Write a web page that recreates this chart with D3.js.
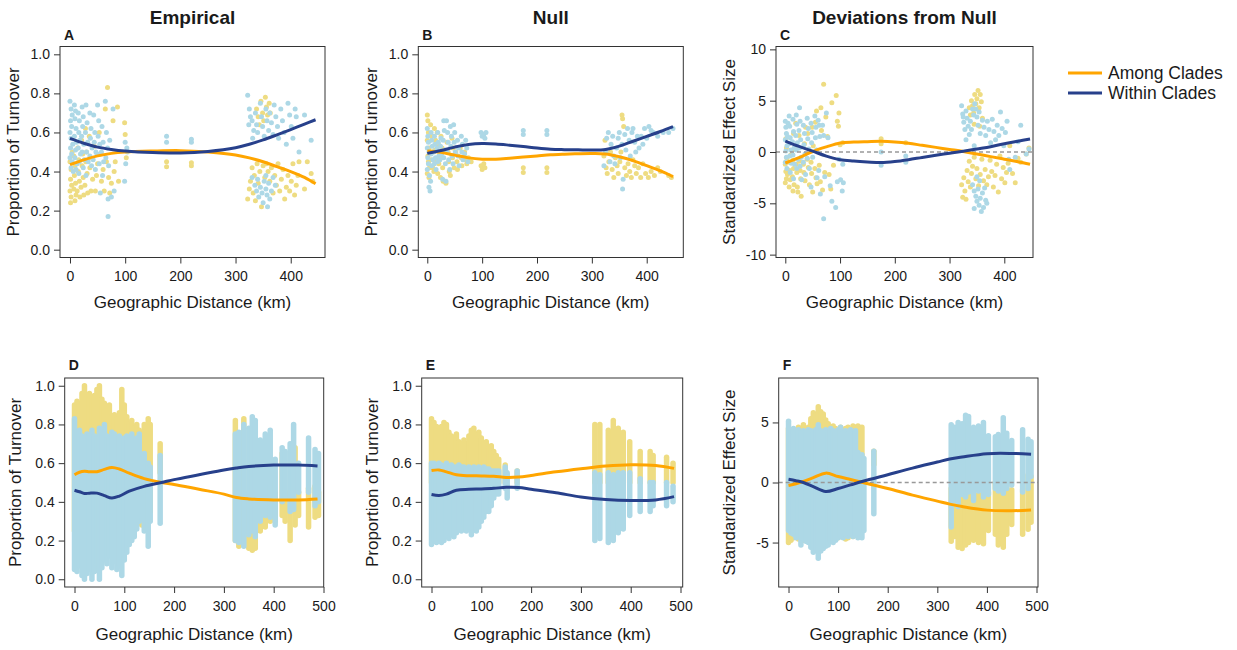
<!DOCTYPE html>
<html><head><meta charset="utf-8">
<script src="https://cdn.jsdelivr.net/npm/d3@7"></script>
<style>body{margin:0;background:#fff}text{font-family:"Liberation Sans",Arial,sans-serif;fill:#1a1a1a}</style>
</head><body>
<script>
// ---------- DATA ----------
const seriesNames = ["Among Clades", "Within Clades"];
const colTitles = ["Empirical", "Null", "Deviations from Null"];
const panelLetters = ["A","B","C","D","E","F"];
const xTicksTop = [0,100,200,300,400];
const xTicksBottom = [0,100,200,300,400,500];
const yTicksProp = [0,0.2,0.4,0.6,0.8,1.0];
const yTicksSesTop = [-10,-5,0,5,10];
const yTicksSesBottom = [-5,0,5];

// Top row scatter points [distance km, value]
const A_among_pts = [[0,0.45],[2,0.41],[1,0.36],[3,0.33],[0,0.3],[2,0.27],[1,0.24],[4,0.5],[7,0.48],[9,0.43],[8,0.38],[10,0.34],[7,0.31],[11,0.28],[9,0.25],[14,0.52],[16,0.46],[15,0.4],[17,0.35],[13,0.3],[18,0.27],[21,0.56],[23,0.49],[22,0.43],[24,0.37],[20,0.32],[25,0.28],[28,0.62],[30,0.5],[29,0.45],[31,0.39],[27,0.33],[32,0.29],[35,0.58],[37,0.47],[36,0.42],[38,0.3],[41,0.36],[44,0.53],[46,0.3],[48,0.38],[50,0.44],[53,0.6],[55,0.49],[57,0.35],[60,0.41],[62,0.3],[64,0.72],[66,0.45],[68,0.83],[70,0.37],[72,0.29],[75,0.34],[78,0.66],[80,0.4],[82,0.45],[86,0.73],[88,0.35],[99,0.65],[100,0.59],[102,0.47],[175,0.45],[175,0.425],[220,0.445],[220,0.43],[338,0.72],[341,0.68],[343,0.64],[346,0.76],[349,0.7],[351,0.66],[354,0.78],[356,0.73],[358,0.69],[361,0.75],[363,0.7],[322,0.26],[325,0.31],[327,0.35],[330,0.42],[332,0.29],[334,0.38],[336,0.25],[339,0.44],[341,0.34],[344,0.4],[347,0.22],[350,0.43],[353,0.37],[356,0.44],[359,0.4],[362,0.35],[365,0.42],[368,0.29],[371,0.38],[374,0.33],[377,0.44],[380,0.3],[383,0.36],[386,0.41],[389,0.26],[392,0.32],[395,0.38],[398,0.3],[401,0.35],[404,0.44],[407,0.28],[410,0.33],[413,0.38],[425,0.31],[430,0.45],[437,0.39],[440,0.35],[415,0.45]];
const A_within_pts = [[0,0.76],[2,0.72],[4,0.69],[1,0.66],[3,0.63],[0,0.6],[2,0.57],[5,0.54],[1,0.52],[3,0.49],[0,0.47],[4,0.45],[2,0.42],[6,0.4],[8,0.74],[10,0.71],[9,0.67],[11,0.62],[8,0.58],[12,0.55],[10,0.51],[9,0.47],[13,0.44],[11,0.41],[15,0.7],[17,0.66],[16,0.6],[18,0.56],[15,0.52],[19,0.49],[17,0.45],[16,0.39],[22,0.73],[24,0.68],[23,0.63],[21,0.58],[25,0.54],[22,0.5],[26,0.46],[24,0.42],[29,0.74],[31,0.65],[28,0.6],[32,0.55],[30,0.5],[33,0.45],[29,0.38],[36,0.7],[38,0.62],[37,0.57],[40,0.52],[36,0.48],[39,0.43],[43,0.69],[45,0.6],[44,0.55],[47,0.5],[42,0.46],[46,0.41],[50,0.74],[52,0.66],[51,0.58],[54,0.54],[49,0.49],[53,0.44],[58,0.63],[60,0.55],[57,0.5],[61,0.45],[59,0.38],[64,0.76],[66,0.6],[68,0.52],[65,0.47],[70,0.43],[69,0.26],[55,0.29],[69,0.17],[75,0.27],[78,0.72],[72,0.56],[80,0.3],[99,0.35],[101,0.44],[103,0.52],[100,0.55],[104,0.5],[175,0.58],[175,0.55],[220,0.565],[220,0.55],[322,0.79],[325,0.72],[327,0.68],[324,0.64],[330,0.66],[333,0.61],[331,0.57],[336,0.7],[338,0.64],[340,0.6],[345,0.75],[347,0.68],[349,0.63],[352,0.58],[355,0.72],[357,0.66],[360,0.61],[362,0.7],[365,0.65],[368,0.59],[370,0.74],[373,0.68],[376,0.63],[378,0.57],[382,0.72],[385,0.66],[388,0.6],[392,0.54],[395,0.75],[398,0.69],[401,0.63],[404,0.57],[408,0.72],[410,0.68],[425,0.69],[437,0.56],[415,0.5],[330,0.37],[335,0.33],[338,0.3],[340,0.36],[342,0.27],[345,0.32],[348,0.29],[350,0.24],[352,0.35],[355,0.31],[357,0.28],[358,0.22],[360,0.34],[362,0.26],[365,0.3],[368,0.37],[372,0.33],[355,0.38]];

const B_among_pts = [[0,0.69],[1,0.66],[2,0.6],[0,0.56],[3,0.52],[1,0.48],[2,0.45],[4,0.42],[0,0.39],[3,0.37],[6,0.64],[8,0.58],[9,0.5],[7,0.46],[10,0.42],[13,0.62],[15,0.56],[14,0.51],[16,0.46],[12,0.4],[18,0.6],[20,0.54],[22,0.5],[21,0.44],[19,0.39],[25,0.58],[27,0.52],[26,0.47],[28,0.42],[24,0.37],[29,0.35],[32,0.35],[34,0.34],[36,0.55],[38,0.5],[39,0.45],[40,0.4],[42,0.38],[45,0.57],[47,0.52],[46,0.47],[49,0.42],[52,0.5],[54,0.45],[55,0.41],[60,0.52],[62,0.47],[63,0.43],[68,0.5],[70,0.46],[72,0.44],[75,0.47],[80,0.45],[98,0.43],[100,0.41],[103,0.44],[105,0.42],[175,0.42],[175,0.395],[218,0.42],[218,0.395],[322,0.48],[324,0.56],[326,0.42],[328,0.39],[331,0.45],[334,0.5],[337,0.41],[340,0.37],[343,0.47],[346,0.43],[348,0.39],[351,0.45],[353,0.5],[355,0.69],[356,0.67],[358,0.63],[360,0.42],[363,0.38],[366,0.44],[369,0.4],[372,0.37],[375,0.46],[378,0.43],[381,0.39],[385,0.42],[389,0.37],[393,0.44],[398,0.39],[403,0.37],[408,0.4],[414,0.38],[420,0.42],[425,0.4],[440,0.38],[445,0.37]];
const B_within_pts = [[0,0.62],[1,0.58],[2,0.55],[0,0.52],[3,0.5],[1,0.47],[2,0.44],[0,0.41],[4,0.38],[3,0.32],[5,0.3],[7,0.6],[8,0.56],[9,0.53],[7,0.49],[10,0.46],[8,0.43],[6,0.35],[13,0.58],[14,0.54],[12,0.5],[15,0.47],[13,0.44],[16,0.41],[19,0.6],[20,0.55],[18,0.52],[21,0.48],[19,0.45],[25,0.57],[24,0.53],[26,0.49],[23,0.46],[30,0.66],[31,0.61],[29,0.56],[32,0.51],[30,0.47],[33,0.44],[28,0.36],[35,0.66],[37,0.6],[38,0.55],[36,0.5],[39,0.46],[34,0.35],[42,0.63],[44,0.58],[43,0.53],[45,0.48],[41,0.41],[48,0.64],[50,0.6],[49,0.55],[51,0.5],[47,0.44],[55,0.56],[57,0.52],[56,0.48],[58,0.43],[62,0.58],[64,0.54],[63,0.5],[65,0.46],[70,0.56],[72,0.52],[68,0.49],[74,0.45],[98,0.6],[100,0.58],[103,0.59],[105,0.57],[107,0.6],[175,0.61],[175,0.59],[218,0.61],[218,0.59],[322,0.43],[325,0.5],[327,0.57],[330,0.6],[333,0.45],[335,0.54],[338,0.58],[340,0.48],[342,0.44],[345,0.52],[348,0.57],[350,0.6],[352,0.47],[355,0.54],[357,0.36],[356,0.31],[360,0.59],[362,0.51],[365,0.62],[368,0.56],[370,0.48],[373,0.6],[375,0.62],[378,0.55],[380,0.5],[383,0.58],[386,0.52],[390,0.58],[393,0.54],[396,0.62],[400,0.57],[404,0.63],[408,0.61],[412,0.6],[420,0.58],[430,0.6],[440,0.6],[448,0.62]];

const C_among_pts = [[0,-1.2],[1,-1.9],[2,-2.6],[0,-3.0],[3,-0.6],[4,-2.2],[2,0.4],[1,1.3],[7,-1.0],[8,-1.8],[9,-2.7],[7,-3.4],[10,-0.3],[14,-0.8],[15,-1.6],[13,-2.4],[16,-3.2],[14,-3.8],[17,0.3],[15,1.8],[20,-1.2],[21,-2.0],[22,-3.4],[23,-3.9],[19,2.8],[26,-0.9],[27,-1.8],[28,-2.6],[29,-4.3],[25,1.6],[33,-1.2],[34,-2.0],[36,-2.8],[35,0.8],[37,2.4],[40,-0.7],[42,-1.5],[44,-3.2],[41,1.8],[47,-1.0],[48,-2.1],[50,-3.9],[49,2.4],[51,0.6],[54,-1.6],[56,-2.5],[58,-3.1],[55,2.9],[57,4.0],[62,-1.3],[64,-2.9],[65,4.3],[66,2.1],[68,-3.7],[70,6.6],[72,-2.0],[74,3.4],[77,1.5],[80,-2.2],[83,-3.6],[85,4.8],[88,-1.3],[93,5.5],[95,3.0],[97,2.5],[98,3.8],[100,0.7],[105,0.9],[175,1.3],[175,0.8],[220,0.9],[336,4.3],[338,3.6],[340,5.0],[342,4.5],[344,3.8],[346,5.6],[348,4.7],[350,5.2],[352,6.0],[354,4.3],[356,5.6],[358,4.9],[360,3.3],[345,2.7],[355,2.5],[322,-3.2],[324,-4.4],[326,-2.5],[328,-3.8],[330,-4.6],[332,-1.8],[334,-2.9],[336,-0.9],[338,-3.4],[340,-2.1],[342,-1.4],[345,-0.5],[348,-2.6],[350,-1.6],[353,-3.3],[356,-2.2],[359,-0.7],[362,-2.8],[365,-1.7],[368,-3.2],[371,-2.4],[374,-0.8],[377,-1.9],[380,-3.4],[383,-2.3],[386,-1.2],[389,-3.9],[392,-0.4],[395,-2.6],[398,-1.5],[401,-3.0],[404,-2.0],[407,-1.1],[410,0.6],[415,-2.1],[420,-3.0],[430,-1.0],[440,-0.2],[445,0.4],[425,-0.6]];
const C_within_pts = [[0,3.0],[1,2.4],[2,1.8],[0,1.2],[3,0.6],[1,0.1],[2,-0.5],[0,-1.0],[4,1.5],[5,2.8],[3,-1.6],[7,3.5],[8,2.5],[9,1.4],[7,0.8],[10,0.2],[8,-0.4],[11,-1.1],[9,-2.0],[14,3.2],[15,2.0],[13,1.0],[16,0.4],[14,-0.3],[17,-1.2],[15,-2.6],[20,3.6],[21,2.7],[19,1.6],[22,0.9],[20,0.2],[23,-0.7],[21,-1.6],[26,4.3],[27,3.0],[25,2.1],[28,1.2],[26,0.4],[29,-0.5],[27,-1.4],[30,-2.7],[33,2.6],[35,1.8],[34,0.7],[36,-0.2],[33,-1.0],[37,-2.2],[40,3.3],[42,2.3],[41,1.3],[43,0.3],[40,-0.6],[44,-1.6],[47,2.8],[49,1.9],[48,0.9],[50,-0.5],[47,-3.4],[54,3.5],[56,2.4],[55,1.4],[57,0.2],[58,-2.5],[60,3.1],[62,2.6],[63,1.5],[61,-1.8],[64,-4.1],[68,2.6],[70,1.6],[72,-2.4],[70,-6.5],[75,3.8],[78,1.4],[82,-3.3],[85,-4.8],[92,-5.4],[95,-2.9],[98,-0.7],[101,-2.7],[104,-3.8],[106,-3.0],[105,-1.2],[175,0.0],[175,-1.3],[220,-0.4],[220,-1.0],[322,4.5],[324,3.7],[326,2.9],[328,2.2],[325,3.4],[330,4.0],[332,3.3],[334,2.5],[336,1.7],[330,1.2],[338,3.0],[340,2.2],[342,4.2],[344,3.6],[346,4.7],[348,4.2],[350,3.4],[352,2.6],[354,3.9],[356,1.8],[345,0.6],[360,3.1],[363,2.4],[366,1.6],[369,3.0],[372,2.2],[375,0.9],[378,3.2],[381,2.0],[384,1.2],[387,2.6],[390,1.6],[393,3.9],[396,2.3],[399,0.6],[402,1.9],[405,3.0],[408,-0.7],[410,-1.7],[420,-0.5],[425,1.0],[430,2.6],[440,-0.2],[445,0.3],[342,-3.2],[345,-3.8],[348,-4.3],[350,-4.8],[352,-3.6],[354,-5.2],[356,-4.5],[358,-5.8],[360,-4.0],[362,-5.4],[364,-3.5],[366,-4.7],[368,-5.0],[355,-2.8],[350,-2.4],[345,-5.5]];

// Bottom row: dense vertical point bands [distance km, min value, max value]
const D_among_bands = [[0,0.25,0.9],[5,0.3,0.92],[10,0.3,0.91],[15,0.28,0.96],[20,0.3,1.0],[25,0.3,0.94],[30,0.3,0.96],[35,0.3,0.93],[40,0.3,0.95],[45,0.3,0.98],[50,0.3,1.0],[55,0.3,0.93],[60,0.3,0.91],[65,0.3,0.88],[70,0.3,0.9],[75,0.3,0.84],[80,0.3,0.85],[85,0.3,0.83],[90,0.3,0.86],[95,0.3,0.98],[100,0.3,0.9],[105,0.28,0.84],[110,0.25,0.8],[115,0.25,0.82],[120,0.27,0.78],[125,0.3,0.8],[130,0.3,0.77],[135,0.28,0.75],[140,0.3,0.8],[148,0.3,0.83],[152,0.35,0.8],[172,0.55,0.7],[323,0.2,0.82],[330,0.17,0.45],[340,0.18,0.83],[350,0.16,0.45],[357,0.15,0.42],[363,0.16,0.5],[373,0.25,0.5],[383,0.27,0.48],[393,0.3,0.5],[403,0.3,0.45],[417,0.33,0.65],[423,0.3,0.45],[433,0.2,0.45],[443,0.28,0.68],[450,0.33,0.45],[470,0.27,0.47],[483,0.32,0.48],[490,0.33,0.45]];
const D_within_bands = [[0,0.05,0.83],[5,0.04,0.76],[10,0.07,0.77],[15,0.02,0.74],[20,0.0,0.73],[25,0.03,0.75],[30,0.05,0.74],[35,0.0,0.77],[40,0.04,0.74],[45,0.08,0.73],[50,0.0,0.78],[55,0.06,0.75],[60,0.1,0.8],[65,0.08,0.74],[70,0.12,0.73],[75,0.06,0.76],[80,0.09,0.75],[85,0.05,0.72],[90,0.07,0.74],[95,0.02,0.72],[100,0.1,0.73],[105,0.14,0.74],[110,0.18,0.72],[115,0.2,0.75],[120,0.22,0.72],[125,0.26,0.73],[130,0.3,0.75],[135,0.32,0.62],[140,0.25,0.65],[148,0.17,0.6],[152,0.3,0.58],[172,0.29,0.64],[323,0.2,0.75],[330,0.19,0.76],[340,0.17,0.8],[350,0.23,0.78],[357,0.25,0.84],[363,0.22,0.82],[373,0.3,0.72],[383,0.33,0.75],[393,0.32,0.77],[403,0.28,0.62],[417,0.4,0.68],[423,0.42,0.66],[433,0.35,0.7],[440,0.36,0.8],[450,0.45,0.6],[470,0.45,0.73],[483,0.38,0.67],[490,0.4,0.65]];

const E_among_bands = [[0,0.5,0.83],[5,0.5,0.81],[10,0.5,0.79],[15,0.5,0.77],[20,0.5,0.79],[25,0.5,0.81],[30,0.5,0.8],[35,0.5,0.76],[40,0.5,0.74],[45,0.5,0.73],[50,0.5,0.75],[55,0.5,0.71],[60,0.5,0.7],[65,0.5,0.72],[70,0.5,0.7],[75,0.5,0.74],[80,0.5,0.77],[85,0.5,0.78],[90,0.5,0.75],[95,0.5,0.76],[100,0.5,0.73],[105,0.5,0.7],[110,0.5,0.71],[115,0.5,0.68],[120,0.5,0.69],[125,0.5,0.66],[130,0.5,0.64],[135,0.5,0.62],[148,0.5,0.59],[172,0.5,0.56],[328,0.5,0.8],[338,0.5,0.8],[355,0.5,0.77],[365,0.5,0.82],[375,0.5,0.78],[385,0.5,0.76],[398,0.5,0.71],[419,0.5,0.66],[439,0.5,0.66],[445,0.5,0.64],[472,0.5,0.63],[485,0.5,0.6]];
const E_within_bands = [[0,0.18,0.6],[5,0.2,0.6],[10,0.19,0.59],[15,0.21,0.6],[20,0.19,0.59],[25,0.2,0.58],[30,0.22,0.6],[35,0.21,0.58],[40,0.23,0.59],[45,0.22,0.58],[50,0.24,0.58],[55,0.26,0.59],[60,0.25,0.58],[65,0.28,0.58],[70,0.25,0.57],[75,0.27,0.58],[80,0.23,0.57],[85,0.26,0.58],[90,0.25,0.57],[95,0.27,0.58],[100,0.3,0.57],[105,0.32,0.58],[110,0.35,0.57],[115,0.35,0.57],[120,0.38,0.56],[125,0.42,0.56],[130,0.44,0.56],[135,0.44,0.56],[148,0.47,0.58],[152,0.42,0.55],[172,0.47,0.56],[328,0.2,0.55],[338,0.21,0.54],[355,0.19,0.55],[365,0.2,0.54],[375,0.24,0.55],[385,0.26,0.55],[398,0.33,0.55],[419,0.35,0.52],[439,0.35,0.5],[445,0.38,0.5],[472,0.38,0.5],[485,0.4,0.48]];

const F_among_bands = [[0,-5.0,4.5],[5,-4.8,4.4],[10,-4.6,4.3],[15,-4.5,4.4],[20,-4.7,4.6],[25,-4.6,4.5],[30,-4.8,4.8],[35,-4.5,4.4],[40,-4.6,4.6],[45,-4.4,5.3],[50,-4.5,5.8],[55,-4.3,5.6],[60,-4.6,6.3],[65,-4.5,5.9],[70,-4.4,5.7],[75,-4.6,5.2],[80,-4.7,4.9],[85,-4.8,4.6],[90,-4.5,4.7],[95,-4.7,4.5],[100,-4.6,4.4],[105,-4.4,4.6],[110,-4.5,4.4],[115,-4.7,4.5],[120,-4.6,4.6],[125,-4.4,4.3],[130,-4.5,4.7],[135,-4.3,4.6],[140,-4.3,4.7],[148,-3.0,4.6],[172,1.5,2.6],[328,-4.9,-0.5],[335,-4.5,0.3],[342,-5.4,-0.5],[350,-5.5,-0.8],[357,-5.2,-0.4],[363,-5.0,-0.6],[373,-4.8,-0.6],[383,-5.0,-1.0],[393,-5.1,-0.4],[403,-4.0,-0.8],[417,-4.3,0.0],[423,-5.2,-0.5],[433,-5.4,1.2],[440,-4.3,1.3],[450,-3.5,-0.6],[472,-4.3,-0.6],[483,-3.9,0.6],[489,-3.3,0.5]];
const F_within_bands = [[0,-4.0,5.1],[5,-4.2,4.4],[10,-4.3,4.5],[15,-4.6,4.3],[20,-4.4,4.4],[25,-5.2,4.2],[30,-4.7,4.3],[35,-4.9,4.2],[40,-5.0,4.4],[45,-5.4,4.3],[50,-5.8,4.2],[55,-5.6,4.4],[60,-6.3,4.8],[65,-5.7,4.3],[70,-5.5,4.2],[75,-5.3,4.4],[80,-5.2,4.2],[85,-4.9,4.5],[90,-5.0,4.3],[95,-4.8,4.2],[100,-4.6,4.4],[105,-4.5,4.6],[110,-4.6,4.2],[115,-4.4,4.3],[120,-4.5,4.1],[125,-4.3,4.4],[130,-4.5,4.2],[135,-4.4,4.3],[140,-4.6,2.5],[148,-4.6,2.3],[152,-4.0,2.0],[172,-2.6,2.6],[328,-3.7,4.8],[335,-1.5,4.6],[342,-2.0,5.0],[350,-1.0,4.9],[357,-1.2,5.6],[363,-0.8,5.5],[373,-1.5,4.6],[383,-0.7,4.7],[393,-1.2,5.0],[403,-1.0,3.9],[417,-0.5,3.8],[423,-0.7,4.0],[433,-0.9,5.4],[440,-0.5,4.1],[450,-0.2,3.5],[472,-0.8,4.4],[483,-0.5,3.6],[489,0.5,3.4]];

// Smoothed trend lines
const A_lineX = [0,25,50,75,100,150,200,250,300,325,350,375,400,425,445];
const A_among_line = [0.435,0.46,0.48,0.493,0.5,0.505,0.507,0.5,0.485,0.47,0.45,0.425,0.4,0.37,0.337];
const A_within_line = [0.57,0.545,0.525,0.513,0.505,0.497,0.495,0.503,0.522,0.54,0.562,0.588,0.615,0.643,0.665];
const B_lineX = [0,25,50,75,100,125,150,175,200,225,250,275,300,325,350,375,400,425,448];
const B_among_line = [0.505,0.498,0.484,0.47,0.463,0.463,0.468,0.474,0.48,0.486,0.489,0.491,0.492,0.49,0.476,0.456,0.43,0.403,0.374];
const B_within_line = [0.493,0.508,0.525,0.538,0.543,0.541,0.535,0.528,0.52,0.514,0.512,0.511,0.51,0.513,0.53,0.555,0.58,0.605,0.63];
const C_lineX = [0,25,50,75,100,125,150,175,200,225,250,275,300,325,350,375,400,425,447];
const C_among_line = [-1.07,-0.55,0.05,0.5,0.88,0.97,1.01,1.04,0.98,0.85,0.65,0.45,0.25,0.05,-0.2,-0.45,-0.7,-0.95,-1.2];
const C_within_line = [1.07,0.55,0.08,-0.4,-0.75,-0.88,-0.97,-1.03,-0.93,-0.75,-0.53,-0.32,-0.12,0.08,0.3,0.52,0.8,1.05,1.27];
const D_lineX = [0,10,20,30,45,60,75,90,110,140,175,200,250,300,325,350,400,450,488];
const D_among_line = [0.54,0.553,0.558,0.556,0.556,0.568,0.578,0.57,0.548,0.52,0.5,0.49,0.465,0.44,0.422,0.415,0.41,0.41,0.415];
const D_within_line = [0.46,0.452,0.443,0.445,0.445,0.432,0.42,0.43,0.455,0.48,0.5,0.515,0.54,0.565,0.575,0.583,0.59,0.59,0.585];
const E_lineX = [0,15,30,50,75,100,125,150,175,200,250,300,350,400,450,487];
const E_among_line = [0.562,0.565,0.555,0.54,0.535,0.534,0.532,0.526,0.528,0.536,0.555,0.571,0.585,0.592,0.588,0.573];
const E_within_line = [0.438,0.433,0.44,0.46,0.465,0.467,0.47,0.475,0.474,0.465,0.447,0.425,0.412,0.407,0.41,0.427];
const F_lineX = [0,15,30,50,75,100,125,150,200,250,300,325,350,400,450,489];
const F_among_line = [-0.25,-0.1,0.1,0.4,0.78,0.5,0.25,0.0,-0.5,-1.05,-1.55,-1.8,-2.0,-2.3,-2.35,-2.28];
const F_within_line = [0.27,0.15,0.0,-0.35,-0.75,-0.5,-0.2,0.1,0.65,1.2,1.7,1.95,2.12,2.4,2.42,2.35];

// ---------- STYLE / LAYOUT ----------
const colAmongPt = "#EEDC82", colWithinPt = "#ADD8E6";
const colAmongLine = "#FFA500", colWithinLine = "#27408B";
const propFmt = d => d.toFixed(1);
const intFmt = d => String(d);

const panels = [
  {box:[60,325,46.5,257.5], xd:[-18.1,462.1], yd:[-0.04,1.04], xt:xTicksTop, yt:yTicksProp, fmt:propFmt, ylab:"Proportion of Turnover", title:colTitles[0], pts:[A_among_pts,A_within_pts], lx:A_lineX, la:A_among_line, lw:A_within_line, zero:false},
  {box:[418.3,683.3,46.5,257.5], xd:[-16.4,466.7], yd:[-0.04,1.04], xt:xTicksTop, yt:yTicksProp, fmt:propFmt, ylab:"Proportion of Turnover", title:colTitles[1], pts:[B_among_pts,B_within_pts], lx:B_lineX, la:B_among_line, lw:B_within_line, zero:false},
  {box:[776,1033,46.5,257.5], xd:[-17,452.4], yd:[-10.28,10.28], xt:xTicksTop, yt:yTicksSesTop, fmt:intFmt, ylab:"Standardized Effect Size", title:colTitles[2], pts:[C_among_pts,C_within_pts], lx:C_lineX, la:C_among_line, lw:C_within_line, zero:true},
  {box:[64.7,323.7,378,587], xd:[-19.7,500.4], yd:[-0.04,1.04], xt:xTicksBottom, yt:yTicksProp, fmt:propFmt, ylab:"Proportion of Turnover", bands:[D_among_bands,D_within_bands], lx:D_lineX, la:D_among_line, lw:D_within_line, zero:false},
  {box:[421.7,682.7,378,587], xd:[-19.7,504.4], yd:[-0.04,1.04], xt:xTicksBottom, yt:yTicksProp, fmt:propFmt, ylab:"Proportion of Turnover", bands:[E_among_bands,E_within_bands], lx:E_lineX, la:E_among_line, lw:E_within_line, zero:false},
  {box:[778.7,1038,378,587], xd:[-19.8,503], yd:[-8.7,8.7], xt:xTicksBottom, yt:yTicksSesBottom, fmt:intFmt, ylab:"Standardized Effect Size", bands:[F_among_bands,F_within_bands], lx:F_lineX, la:F_among_line, lw:F_within_line, zero:true}
];

const svg = d3.select("body").append("svg").attr("width",1237).attr("height",650);
svg.append("rect").attr("width",1237).attr("height",650).attr("fill","#fff");

panels.forEach((p,i)=>{
  const [l,r,t,b] = p.box;
  const x = d3.scaleLinear().domain(p.xd).range([l,r]);
  const y = d3.scaleLinear().domain(p.yd).range([b,t]);
  const top = i < 3;
  const clipId = "clip"+i;
  svg.append("clipPath").attr("id",clipId).append("rect").attr("x",l).attr("y",t).attr("width",r-l).attr("height",b-t);
  const g = svg.append("g").attr("clip-path",`url(#${clipId})`);
  const ptCols = [colAmongPt, colWithinPt];
  if (p.pts) {
    p.pts.forEach((arr,k)=>{
      g.append("g").selectAll("circle").data(arr).join("circle")
        .attr("cx",d=>x(d[0])).attr("cy",d=>y(d[1])).attr("r",2.5).attr("fill",ptCols[k]);
    });
  }
  if (p.bands) {
    p.bands.forEach((arr,k)=>{
      g.append("g").selectAll("line").data(arr).join("line")
        .attr("x1",d=>x(d[0])).attr("x2",d=>x(d[0]))
        .attr("y1",d=>y(d[1])).attr("y2",d=>y(d[2]))
        .attr("stroke",ptCols[k]).attr("stroke-width",5.5).attr("stroke-linecap","round");
    });
  }
  if (p.zero) {
    g.append("line").attr("x1",l).attr("x2",r).attr("y1",y(0)).attr("y2",y(0))
      .attr("stroke","#999").attr("stroke-width",1.5).attr("stroke-dasharray","4,3");
  }
  const line = d3.line().x(d=>x(d[0])).y(d=>y(d[1])).curve(d3.curveCatmullRom.alpha(0.5));
  [[p.la,colAmongLine],[p.lw,colWithinLine]].forEach(([vals,c])=>{
    g.append("path").attr("d",line(p.lx.map((v,j)=>[v,vals[j]])))
      .attr("fill","none").attr("stroke",c).attr("stroke-width",3);
  });
  svg.append("rect").attr("x",l).attr("y",t).attr("width",r-l).attr("height",b-t)
    .attr("fill","none").attr("stroke","#333").attr("stroke-width",1);
  const xa = svg.append("g").attr("transform",`translate(0,${b})`)
    .call(d3.axisBottom(x).tickValues(p.xt).tickSize(6).tickPadding(8).tickFormat(intFmt));
  const ya = svg.append("g").attr("transform",`translate(${l},0)`)
    .call(d3.axisLeft(y).tickValues(p.yt).tickSize(6).tickPadding(4).tickFormat(p.fmt));
  [xa,ya].forEach(a=>{
    a.select(".domain").remove();
    a.selectAll("line").attr("stroke","#333");
    a.selectAll("text").style("font-size","14px").attr("fill","#1a1a1a").style("font-family",'"Liberation Sans",Arial,sans-serif');
  });
  svg.append("text").attr("x",(l+r)/2).attr("y", top ? 308 : 640).attr("text-anchor","middle")
    .style("font-size","17px").text("Geographic Distance (km)");
  const yx = l - (top ? 41.5 : 44);
  svg.append("text").attr("transform",`translate(${yx},${(t+b)/2}) rotate(-90)`).attr("text-anchor","middle")
    .style("font-size","17px").text(p.ylab);
  svg.append("text").attr("x",l+4).attr("y", top ? 39.5 : 370).style("font-size","14px").style("font-weight","bold").text(panelLetters[i]);
  if (p.title) {
    svg.append("text").attr("x",(l+r)/2).attr("y",24).attr("text-anchor","middle")
      .style("font-size","19px").style("font-weight","bold").text(p.title);
  }
});

// legend
const leg = svg.append("g");
[[seriesNames[0],colAmongLine,73],[seriesNames[1],colWithinLine,93]].forEach(([name,c,yy])=>{
  leg.append("line").attr("x1",1068).attr("x2",1102).attr("y1",yy).attr("y2",yy).attr("stroke",c).attr("stroke-width",3);
  leg.append("text").attr("x",1108).attr("y",yy).attr("dy","0.35em").style("font-size","17.5px").text(name);
});
</script>
</body></html>
